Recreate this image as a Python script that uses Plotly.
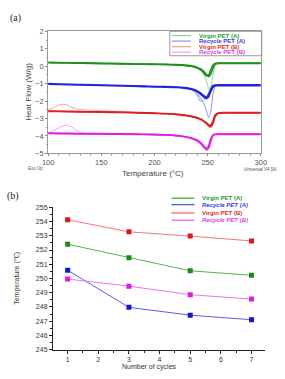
import plotly.graph_objects as go

W, H = 285, 379

# ---------------- Panel (a) data: DSC heat-flow curves ----------------
T_main = [100, 110, 130, 150, 170, 190, 200, 210, 220, 228, 234, 239, 243, 246, 249, 251, 253, 255, 257, 260, 265, 275, 290, 300]

green_main = [0.22, 0.21, 0.19, 0.17, 0.15, 0.13, 0.12, 0.11, 0.09, 0.06, 0.02, -0.05, -0.15, -0.28, -0.48, -0.6, -0.45, -0.1, 0.12, 0.16, 0.16, 0.16, 0.16, 0.16]
green_cyc2 = [0.2, 0.19, 0.17, 0.15, 0.13, 0.11, 0.1, 0.09, 0.07, 0.04, 0.0, -0.08, -0.2, -0.35, -0.55, -0.5, -0.2, 0.05, 0.15, 0.18, 0.18, 0.18, 0.18, 0.18]
T_g_thin = [200, 220, 230, 236, 241, 245, 248, 250, 252, 254, 256, 258, 262, 270]
green_thin = [0.12, 0.1, 0.08, 0.04, -0.08, -0.3, -0.7, -1.1, -1.4, -0.9, -0.2, 0.1, 0.16, 0.17]

blue_main = [-1.03, -1.05, -1.08, -1.11, -1.14, -1.17, -1.19, -1.2, -1.22, -1.26, -1.32, -1.42, -1.58, -1.74, -1.85, -1.75, -1.45, -1.2, -1.13, -1.12, -1.12, -1.12, -1.12, -1.12]
blue_cyc2 = [-1.0, -1.02, -1.05, -1.08, -1.11, -1.14, -1.16, -1.17, -1.19, -1.23, -1.28, -1.38, -1.52, -1.68, -1.78, -1.6, -1.3, -1.12, -1.08, -1.07, -1.07, -1.07, -1.07, -1.07]
T_b_thin1 = [220, 230, 236, 240, 243, 246, 249, 252, 255, 258, 262]
blue_thin1 = [-1.2, -1.25, -1.38, -1.65, -2.0, -1.95, -1.7, -1.45, -1.25, -1.12, -1.1]
T_b_thin2 = [220, 230, 237, 242, 246, 249, 251, 253, 255, 257, 260]
blue_thin2 = [-1.2, -1.26, -1.4, -1.7, -2.1, -2.6, -2.95, -2.6, -1.6, -1.15, -1.1]

T_r = [100, 110, 130, 150, 170, 190, 200, 210, 220, 228, 234, 239, 243, 246, 249, 251, 253, 255, 257, 260, 265, 275, 290, 300]
red_main = [-2.59, -2.6, -2.62, -2.64, -2.66, -2.69, -2.71, -2.73, -2.77, -2.82, -2.88, -2.96, -3.05, -3.15, -3.3, -3.42, -3.48, -3.3, -2.9, -2.7, -2.68, -2.68, -2.68, -2.68]
red_cyc2 = [-2.57, -2.58, -2.6, -2.62, -2.64, -2.67, -2.69, -2.71, -2.75, -2.8, -2.86, -2.93, -3.02, -3.12, -3.25, -3.36, -3.38, -3.15, -2.8, -2.68, -2.66, -2.66, -2.66, -2.66]
T_r_thin = [100, 105, 110, 114, 118, 122, 127, 132, 145, 170, 200]
red_thin = [-2.5, -2.38, -2.24, -2.18, -2.22, -2.35, -2.46, -2.5, -2.54, -2.6, -2.68]

magenta_main = [-3.86, -3.87, -3.88, -3.89, -3.9, -3.92, -3.93, -3.95, -3.99, -4.05, -4.13, -4.25, -4.42, -4.62, -4.8, -4.7, -4.3, -3.98, -3.92, -3.91, -3.91, -3.91, -3.91, -3.91]
magenta_cyc2 = [-3.84, -3.85, -3.86, -3.87, -3.88, -3.9, -3.91, -3.93, -3.97, -4.03, -4.1, -4.2, -4.35, -4.55, -4.7, -4.55, -4.15, -3.95, -3.9, -3.89, -3.89, -3.89, -3.89, -3.89]
T_m_thin = [100, 106, 111, 117, 122, 127, 132, 145, 170, 200]
magenta_thin = [-3.8, -3.68, -3.5, -3.39, -3.48, -3.7, -3.82, -3.86, -3.89, -3.93]

# ---------------- Panel (b) data: melting temperature vs cycles ----------------
cycles = [1, 3, 5, 7]
virgin_A = [252.41, 251.45, 250.54, 250.22]
recycle_A = [250.58, 247.97, 247.42, 247.10]
virgin_B = [254.13, 253.28, 252.98, 252.64]
recycle_B = [249.96, 249.46, 248.86, 248.55]

legend_names = ["Virgin PET (A)", "Recycle PET (A)", "Virgin PET (B)", "Recycle PET (B)"]
a_ticks = [100, 150, 200, 250, 300]
b_xticks = [1, 2, 3, 4, 5, 6, 7]

C_G, C_B, C_R, C_M = "#1f8f1f", "#2323d8", "#d82323", "#e020e0"
CL_G, CL_B, CL_R, CL_M = "#8fcf8f", "#8f8fef", "#ef9f9f", "#f3a0f3"
TXT = ["#2a9a2a", "#3a3ae0", "#e02a2a", "#e040e0"]


def px(x):
    return x / W


def py(y):
    return 1 - y / H


fig = go.Figure()


def dsc(x, y, color, width, xa="x", ya="y"):
    fig.add_trace(go.Scatter(x=x, y=y, mode="lines", xaxis=xa, yaxis=ya,
                             line=dict(color=color, width=width, shape="spline", smoothing=0.7),
                             showlegend=False, hoverinfo="skip"))


for x, y, c in [(T_g_thin, green_thin, CL_G), (T_b_thin1, blue_thin1, CL_B), (T_b_thin2, blue_thin2, CL_B),
                (T_r_thin, red_thin, CL_R), (T_m_thin, magenta_thin, CL_M)]:
    dsc(x, y, c, 1)
for y, c in [(green_cyc2, C_G), (blue_cyc2, C_B), (red_cyc2, C_R), (magenta_cyc2, C_M)]:
    dsc(T_main if c != C_R else T_r, y, c, 1.6)
for y, c in [(green_main, C_G), (blue_main, C_B), (red_main, C_R), (magenta_main, C_M)]:
    dsc(T_main if c != C_R else T_r, y, c, 1.6)

# panel (b) traces
line_cols = ["#56b356", "#5c5ce6", "#f07a7a", "#f070f0"]
mark_cols = ["#1a8a1a", "#1414d0", "#e01818", "#e018e0"]
for vals, lc, mc in zip([virgin_A, recycle_A, virgin_B, recycle_B], line_cols, mark_cols):
    fig.add_trace(go.Scatter(x=cycles, y=vals, mode="lines+markers", xaxis="x2", yaxis="y2",
                             line=dict(color=lc, width=1),
                             marker=dict(symbol="square", size=5, color=mc),
                             showlegend=False, hoverinfo="skip"))

tickfont_a = dict(family="Liberation Sans, Arial", size=7.5, color="#555")
tickfont_b = dict(family="Liberation Sans, Arial", size=7, color="#333")

fig.update_layout(
    width=W, height=H, margin=dict(l=0, r=0, t=0, b=0),
    paper_bgcolor="white", plot_bgcolor="white",
    xaxis=dict(domain=[px(44), px(266)], range=[100, 300], anchor="y",
               tickvals=a_ticks, ticks="outside", ticklen=2, tickcolor="#888",
               minor=dict(dtick=10, ticks="outside", ticklen=1.5, tickcolor="#aaa"),
               showline=True, linecolor="#999", linewidth=1, mirror=True,
               showgrid=False, zeroline=False, tickfont=tickfont_a),
    yaxis=dict(domain=[py(153), py(28)], range=[-5, 2], anchor="x",
               dtick=1, ticks="outside", ticklen=2, tickcolor="#888",
               minor=dict(dtick=0.5, ticks="outside", ticklen=1.5, tickcolor="#aaa"),
               showline=True, linecolor="#999", linewidth=1, mirror=True,
               showgrid=False, zeroline=False, tickfont=tickfont_a),
    xaxis2=dict(domain=[px(49), px(270.7)], range=[0.52, 7.45], anchor="y2",
                tickvals=b_xticks, ticks="outside", ticklen=3, tickcolor="#222",
                minor=dict(dtick=0.5, ticks="outside", ticklen=2, tickcolor="#222"),
                showline=True, linecolor="#222", linewidth=1,
                showgrid=False, zeroline=False, tickfont=tickfont_b),
    yaxis2=dict(domain=[py(354), py(208.3)], range=[245, 255], anchor="x2",
                dtick=1, ticks="outside", ticklen=3, tickcolor="#222",
                minor=dict(dtick=0.5, ticks="outside", ticklen=2, tickcolor="#222"),
                showline=True, linecolor="#222", linewidth=1,
                showgrid=False, zeroline=False, tickfont=tickfont_b),
)

ann = []
shapes = []


def text(x, y, s, size, color="#333", family="Liberation Sans, Arial", angle=0, xanchor="center", bold=False):
    ann.append(dict(x=px(x), y=py(y), xref="paper", yref="paper", text=(f"<b>{s}</b>" if bold else s),
                    showarrow=False, font=dict(size=size, color=color, family=family),
                    textangle=angle, xanchor=xanchor, yanchor="middle"))


text(10, 14, "(a)", 10, "#222", "Liberation Serif, Times New Roman")
text(7, 197, "(b)", 10, "#222", "Liberation Serif, Times New Roman")
text(24, 90, "Heat Flow (W/g)", 8, "#444", angle=-90)
text(153, 174, "Temperature (°C)", 8, "#444")
text(31, 168.5, "Exo Up", 4.5, "#555")
text(265, 169.5, "Universal V4.5A", 4.5, "#555")
text(12, 281, "Temperature (℃)", 7, "#333", angle=-90)
text(150, 372, "Number of cycles", 7, "#333")

# legend (a)
shapes.append(dict(type="rect", xref="paper", yref="paper", x0=px(171), x1=px(267), y0=py(53), y1=py(28),
                   line=dict(color="#999", width=1), fillcolor="white", layer="below"))
for i, (yy, c, name) in enumerate(zip([32.3, 38, 43.7, 49.3], [CL_G, CL_B, CL_R, CL_M], legend_names)):
    shapes.append(dict(type="line", xref="paper", yref="paper", x0=px(173), x1=px(193), y0=py(yy), y1=py(yy),
                       line=dict(color=c, width=1.2)))
    text(199, yy, name, 6, TXT[i], xanchor="left", bold=True)

# legend (b)
for i, (yy, name) in enumerate(zip([199, 205.5, 214, 221.5], legend_names)):
    shapes.append(dict(type="line", xref="paper", yref="paper", x0=px(172.7), x1=px(196.7), y0=py(yy), y1=py(yy),
                       line=dict(color=line_cols[i] if i != 2 else "#f0a0a0", width=1.4 if i != 2 else 2)))
    s = f"<i>{name}</i>" if "Recycle" in name else name
    text(202.7, yy, s, 6, TXT[i], xanchor="left", bold=True)

fig.update_layout(annotations=ann, shapes=shapes)
fig.write_html("out.html")
